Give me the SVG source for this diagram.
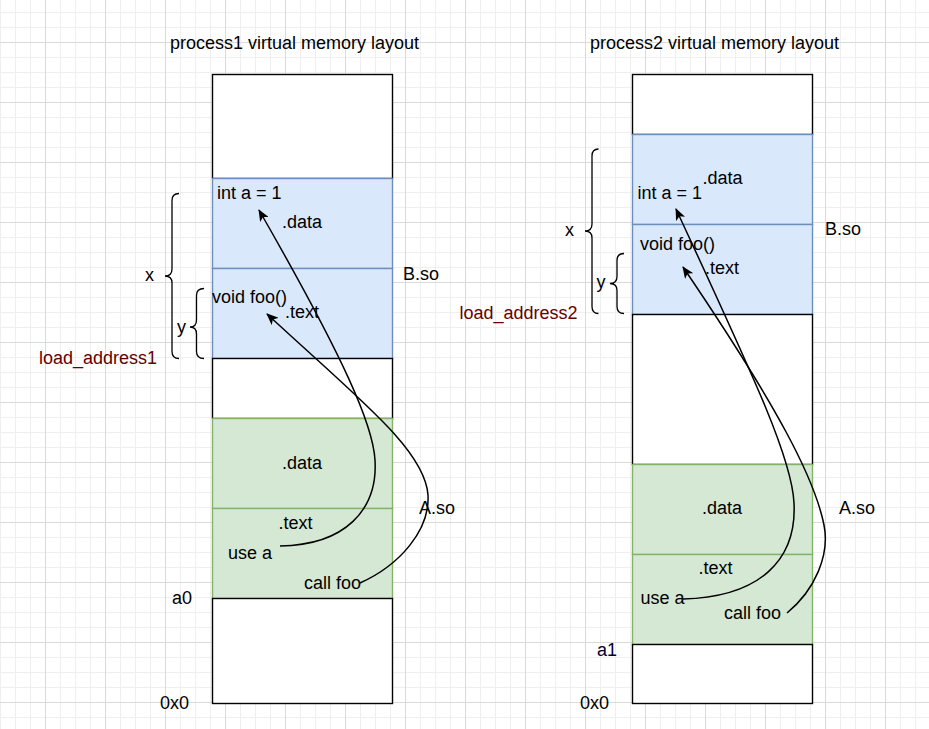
<svg xmlns="http://www.w3.org/2000/svg" width="929" height="729" viewBox="0 0 929 729">
  <defs>
    <pattern id="grid" x="45" y="42" width="60" height="60" patternUnits="userSpaceOnUse">
      <path d="M15.5 0V60M30.5 0V60M45.5 0V60M0 15.5H60M0 30.5H60M0 45.5H60" stroke="#efefef" stroke-width="1" fill="none"/>
      <path d="M0.5 0V60M0 0.5H60" stroke="#dadada" stroke-width="1" fill="none"/>
    </pattern>
    <marker id="arrow" viewBox="0 0 12 10" refX="11" refY="5" markerWidth="12" markerHeight="10" markerUnits="userSpaceOnUse" orient="auto">
      <path d="M0,0 L12,5 L0,10 L3,5 Z" fill="#000"/>
    </marker>
    <style>
      text { font-family: "Liberation Sans", Arial, sans-serif; font-size: 18px; fill: #000; }
      .lbl-red { fill: #660000; }
      .lbl-navy { fill: #000033; }
      .white { fill: #ffffff; stroke: #000000; stroke-width: 1.4; }
      .blue { fill: #dae8fc; stroke: #6c8ebf; stroke-width: 1.4; }
      .green { fill: #d5e8d4; stroke: #82b366; stroke-width: 1.4; }
      .brace { fill: none; stroke: #000; stroke-width: 1.3; }
      .edge { fill: none; stroke: #000; stroke-width: 1.5; marker-end: url(#arrow); }
    </style>
  </defs>

  <rect x="0" y="0" width="929" height="729" fill="#ffffff"/>
  <rect x="0" y="0" width="929" height="729" fill="url(#grid)"/>

  <!-- Process 1 -->
  <g id="p1-title"><text x="170" y="49">process1 virtual memory layout</text></g>
  <g id="p1-top"><rect class="white" x="212.5" y="74.5" width="180" height="104"/></g>
  <g id="p1-b-data"><rect class="blue" x="212.5" y="178.5" width="180" height="90"/>
    <text x="217" y="199">int a = 1</text>
    <text x="282" y="228">.data</text>
  </g>
  <g id="p1-b-text"><rect class="blue" x="212.5" y="268.5" width="180" height="90"/>
    <text x="212" y="302.5">void foo()</text>
    <text x="285" y="318">.text</text>
  </g>
  <g id="p1-mid"><rect class="white" x="212.5" y="358.5" width="180" height="60"/></g>
  <g id="p1-a-data"><rect class="green" x="212.5" y="418.5" width="180" height="90"/>
    <text x="282" y="468.5">.data</text>
  </g>
  <g id="p1-a-text"><rect class="green" x="212.5" y="508.5" width="180" height="90"/>
    <text x="278.5" y="528.5">.text</text>
    <text x="228" y="558.5">use a</text>
    <text x="304" y="588.5">call foo</text>
  </g>
  <g id="p1-bottom"><rect class="white" x="212.5" y="598.5" width="180" height="105"/></g>
  <g id="p1-labels">
    <text x="403" y="280">B.so</text>
    <text x="419" y="514">A.so</text>
    <text x="172" y="603.5">a0</text>
    <text x="160" y="709">0x0</text>
    <text class="lbl-red" x="39" y="363.5">load_address1</text>
    <text x="145" y="281">x</text>
    <text x="177" y="333">y</text>
  </g>
  <g id="p1-braces">
    <path class="brace" d="M179,193.5 Q172,193.5 172,200.5 L172,269 Q172,276 165,276 Q172,276 172,283 L172,351.5 Q172,358.5 179,358.5"/>
    <path class="brace" d="M204,288.5 Q196.5,288.5 196.5,295.5 L196.5,320 Q196.5,327 190,327 Q196.5,327 196.5,334 L196.5,351.5 Q196.5,358.5 204,358.5"/>
  </g>

  <!-- Process 2 -->
  <g id="p2-title"><text x="590" y="49">process2 virtual memory layout</text></g>
  <g id="p2-top"><rect class="white" x="632.5" y="74.5" width="180" height="60"/></g>
  <g id="p2-b-data"><rect class="blue" x="632.5" y="134.5" width="180" height="90"/>
    <text x="637.5" y="198.5">int a = 1</text>
    <text x="702.5" y="184">.data</text>
  </g>
  <g id="p2-b-text"><rect class="blue" x="632.5" y="224.5" width="180" height="90"/>
    <text x="640" y="250">void foo()</text>
    <text x="705" y="273.5">.text</text>
  </g>
  <g id="p2-mid"><rect class="white" x="632.5" y="314.5" width="180" height="150"/></g>
  <g id="p2-a-data"><rect class="green" x="632.5" y="464.5" width="180" height="90"/>
    <text x="702" y="513.5">.data</text>
  </g>
  <g id="p2-a-text"><rect class="green" x="632.5" y="554.5" width="180" height="90"/>
    <text x="698.5" y="573.5">.text</text>
    <text x="640.5" y="603.5">use a</text>
    <text x="724" y="618.5">call foo</text>
  </g>
  <g id="p2-bottom"><rect class="white" x="632.5" y="644.5" width="180" height="59"/></g>
  <g id="p2-labels">
    <text x="825" y="235">B.so</text>
    <text x="839" y="513.5">A.so</text>
    <text class="lbl-navy" x="597" y="656">a1</text>
    <text x="580" y="708.5">0x0</text>
    <text class="lbl-red" x="459.5" y="319">load_address2</text>
    <text x="565" y="235.5">x</text>
    <text x="596.5" y="288">y</text>
  </g>
  <g id="p2-braces">
    <path class="brace" d="M598.5,149 Q592,149 592,156 L592,224 Q592,231 585,231 Q592,231 592,238 L592,306.5 Q592,313.5 598.5,313.5"/>
    <path class="brace" d="M624,253.5 Q617,253.5 617,260.5 L617,276.5 Q617,283.5 610,283.5 Q617,283.5 617,290.5 L617,306.5 Q617,313.5 624,313.5"/>
  </g>

  <!-- Connectors -->
  <g id="connectors">
    <path class="edge" d="M280,546 C345,545 378,510 375,460 C373,425 345,360 259,210"/>
    <path class="edge" d="M360,583 C400,565 430,530 428,495 C425,450 360,400 267,314"/>
    <path class="edge" d="M683,599 C760,597 797,560 794,503 C792,460 760,390 676,209"/>
    <path class="edge" d="M787,613 C815,590 830,555 824,525 C815,480 780,410 683,267"/>
  </g>
</svg>
